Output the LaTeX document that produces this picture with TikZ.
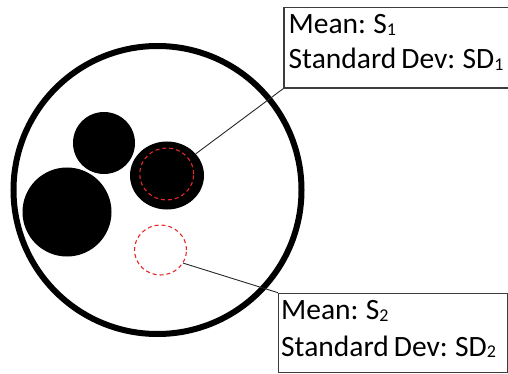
\documentclass[tikz,border=0pt]{standalone}
\usepackage{fontspec}
\setmainfont{Carlito}[WordSpace=0.75]
\usetikzlibrary{shapes.geometric}
\newcommand{\sbs}[1]{\raisebox{-1.8pt}{\fontsize{18}{18}\selectfont #1}}
\begin{document}
\begin{tikzpicture}[x=1pt,y=-1pt,
  blob/.style={circle,fill=black,draw=none,inner sep=0},
  reddash/.style={draw={rgb,255:red,230;green,40;blue,40},line width=1.1pt,dash pattern=on 4pt off 3pt},
  infobox/.style={draw={rgb,255:red,60;green,60;blue,60},line width=1.3pt,fill=white,inner sep=0,anchor=north west},
  label/.style={anchor=base west,inner sep=0,font=\fontsize{29.5}{34}\selectfont},
  leader/.style={draw={rgb,255:red,40;green,40;blue,40},line width=0.9pt}]
\useasboundingbox (0,0) rectangle (508,374);
% outer circle
\node[circle,draw=black,line width=6pt,minimum size=288pt,inner sep=0] (outer) at (157.5,190) {};
% black blobs
\node[blob,minimum size=62pt] (b1) at (104,143) {};
\node[blob,minimum size=89pt] (b2) at (67,212) {};
\node[ellipse,fill=black,minimum width=74pt,minimum height=68pt,inner sep=0] (b3) at (167,175.5) {};
% red dashed circles
\node[ellipse,reddash,minimum width=54pt,minimum height=52pt,inner sep=0] (r1) at (166.7,174) {};
\node[ellipse,reddash,minimum width=52pt,minimum height=50pt,inner sep=0] (r2) at (160.5,250) {};
% info boxes
\node[infobox,minimum width=230pt,minimum height=80.6pt] (box1) at (283.3,6.7) {};
\node[infobox,minimum width=229.3pt,minimum height=79pt] (box2) at (278,292.7) {};
% texts
\node[label] (m1) at (288.5,33.5) {Mean: S\sbs{1}};
\node[label] (s1) at (288.5,68.5) {Standard Dev: SD\sbs{1}};
\node[label] (m2) at (281,319.5) {Mean: S\sbs{2}};
\node[label] (s2) at (281,356) {Standard Dev: SD\sbs{2}};
% leader lines
\draw[leader] (b3.37) -- (box1.south west);
\draw[leader] (r2.-30) -- (box2.north west);
\end{tikzpicture}
\end{document}
